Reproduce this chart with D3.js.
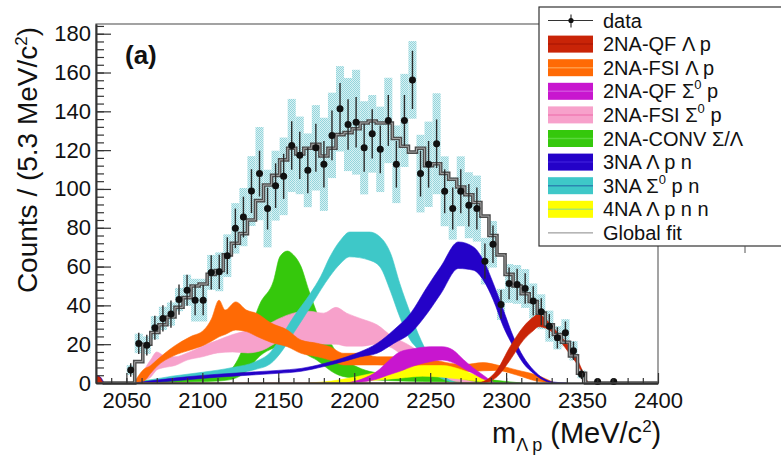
<!DOCTYPE html>
<html>
<head>
<meta charset="utf-8">
<title>m Lambda p</title>
<style type="text/css">
    body { margin: 0; background: #fff; }
    text { font-family: "Liberation Sans", Arial, Helvetica, sans-serif; fill: #111; }
</style>
</head>
<body>
<script src="https://d3js.org/d3.v7.min.js"></script>
<script type="text/javascript">

// histogram: 69 bins of 5.3 MeV starting at 2034.3
var binStart = 2034.3, binWidth = 5.3;

var counts = [0, 0, 0, 6.7, 20.4, 19.5, 28.5, 33.3, 35.5, 43, 47.8, 42.7, 42.7, 57, 57.3, 65.6, 79.7, 85.5,
    98.9, 107.9, 89.9, 101.7, 106.5, 122.4, 117.3, 109.6, 121.2, 112.7, 127.6, 141.3, 133.2, 134.4, 121.2,
    128.4, 120.4, 135.3, 112.7, 135.3, 156.2, 107.9, 112.7, 123.3, 98.8, 89.9, 98.8, 91.6, 89.9, 62.8, 71.5,
    40.5, 51.3, 50.8, 48.7, 42.3, 36.7, 29.3, 23.3, 25.9, 16.6, 4.5, 0, 0.8, 0, 0.8, 0, 0, 0, 0, 0];

var statErr = [0, 0, 0, 3.5, 5.5, 5.3, 6.2, 6.8, 7, 7.8, 8, 7.8, 7.8, 8.8, 8.8, 9.5, 10.2, 10.5,
    11.3, 11.8, 10.8, 11.5, 11.6, 12.5, 12.2, 11.8, 12.4, 12, 12.8, 13.3, 13, 13, 12.4,
    12.7, 12.3, 13.1, 12, 13.1, 15, 11.8, 12, 12.5, 11.3, 10.8, 11.3, 10.9, 10.8, 9.1, 9.6,
    7.4, 8.2, 8.1, 7.9, 7.5, 7, 6.2, 5.5, 5.8, 4.7, 2.5, 0, 0.5, 0, 0.5, 0, 0, 0, 0, 0];

var sysErr = [0, 0, 0, 2.5, 5, 4.5, 6, 6, 6, 6, 8, 11, 11, 9, 10, 11, 13, 15,
    18, 24, 20, 18, 20, 24, 20, 19, 22, 24, 22, 22, 24, 27, 24,
    20, 22, 22, 20, 24, 20, 20, 22, 26, 18, 16, 18, 17, 17, 12, 12,
    8, 10, 10, 10, 9, 9, 8, 6, 7, 5, 2, 0, 0, 0, 0, 0, 0, 0, 0, 0];

var globalFit = [0, 0, 0, 0, 11, 20, 26, 30, 34, 39, 44, 50, 51, 56, 58, 66, 72, 77,
    84, 94, 102, 107, 115, 121, 118, 121, 123, 117, 121, 128, 129, 131, 134,
    135, 134, 134, 126, 122, 119, 121, 112, 113, 108, 105, 101, 97, 93, 86, 76,
    66, 56, 50, 46, 42, 36, 30, 25, 21, 14, 5, 0, 0, 0, 0, 0, 0, 0, 0, 0];

// fit components: x (MeV), upper and lower edge of each band
var qfLpX  = [2030.5, 2032.5, 2035, 2280, 2287, 2294, 2302.6, 2311.4, 2318, 2321.3, 2326.8, 2333.4, 2340, 2346.5, 2351, 2354];
var qfLpHi = [3.5, 3, 0, 0, 1.5, 6.7, 18.7, 29, 34, 35.5, 32.4, 26.4, 20.4, 12.7, 5, 0];
var qfLpLo = [0, 0, 0, 0, 0.3, 3.2, 11.8, 22.1, 27, 29, 28.1, 23.8, 17, 10, 4, 0];

var fsiLpX  = [2055, 2061, 2066, 2070, 2081, 2092, 2101, 2106, 2111, 2115, 2122, 2129, 2136, 2145, 2156, 2165, 2176, 2184, 2193, 2204, 2215, 2230, 2250, 2272, 2285, 2294, 2307, 2320, 2332];
var fsiLpHi = [0, 6.7, 9, 11.8, 18.7, 23.8, 27.3, 33, 42.7, 37.6, 41.8, 37.6, 35.8, 31, 27.3, 22.1, 20.4, 18.7, 15.3, 15.3, 13.5, 13.5, 12, 9.5, 10.5, 9.3, 6.7, 4.1, 0];
var fsiLpLo = [0, 0.7, 5, 8.5, 14, 17, 19.5, 21.5, 23.8, 25, 27.3, 26.5, 24, 21, 18.7, 15.3, 13.5, 11.8, 9.3, 9.3, 9.3, 9, 7, 5.8, 6.3, 6.5, 4.1, 1, 0];

var qfSpX  = [2195, 2205, 2215, 2222, 2230, 2240, 2250, 2258, 2265, 2272, 2278, 2285, 2292];
var qfSpHi = [0, 2, 6, 11, 16, 17.8, 18.7, 18.7, 17, 12, 8, 4, 0];
var qfSpLo = [0, 0.5, 2, 4, 6, 9, 11, 11.8, 10.5, 7.5, 5, 2, 0];

var fsiSpX  = [2054, 2060, 2066, 2070, 2075, 2082, 2090, 2100, 2110, 2120, 2130, 2140, 2150, 2160, 2170, 2180, 2188, 2195, 2205, 2215, 2225, 2235, 2245, 2255, 2265, 2280];
var fsiSpHi = [0, 5, 12, 16, 14, 13.5, 15.5, 19, 22, 25, 27, 29, 33, 36, 37, 36, 39, 36, 33, 30, 24, 20, 15, 9, 4, 0.5];
var fsiSpLo = [0, 1, 3, 6.7, 8, 9, 11.8, 13.5, 15.5, 16, 15.5, 17, 21, 22, 21, 20, 20, 19, 19, 20, 18, 12, 8, 4, 1, 0];

var convX  = [2052, 2060, 2075, 2095, 2110, 2120, 2129, 2138, 2147, 2151, 2156, 2160, 2165, 2170, 2175, 2180, 2185, 2190, 2200, 2210, 2225, 2245, 2265, 2285, 2300, 2310];
var convHi = [0, 1.2, 1.8, 2.8, 3.6, 8, 22, 41, 53, 65, 68, 66, 60, 48, 37, 27, 20, 14, 9, 6, 4.5, 3.8, 3, 2, 0.8, 0];
var convLo = [0, 0, 0.3, 0.6, 1, 2, 6, 14, 18, 19, 20, 19, 17, 14, 12, 9, 6, 4, 2.5, 1.8, 1.2, 0.8, 0.5, 0.2, 0, 0];

var lpnX  = [2030.5, 2033, 2036, 2052, 2070, 2090, 2110, 2130, 2150, 2165, 2180, 2195, 2204, 2215, 2226, 2237, 2248, 2257, 2268.6, 2278.5, 2285, 2291.6, 2298.2, 2304.8, 2311.4, 2318, 2324.5, 2331, 2340];
var lpnHi = [4, 3, 0, 0, 1.5, 3.2, 4.5, 5.5, 6.5, 7.5, 10, 13.5, 16.1, 20.4, 27.3, 35.8, 49.5, 60, 72.7, 70.1, 63.3, 51.3, 37.6, 23.8, 13.5, 6.7, 2.4, 0.5, 0];
var lpnLo = [0, 0, 0, 0, 0.4, 1.7, 3, 4, 5, 6, 8.5, 11.5, 13.5, 15.3, 20.4, 25.6, 35.8, 46, 59, 58.1, 53, 42.7, 29, 18.7, 10.1, 5, 1.5, 0, 0];

var spnX  = [2055, 2080, 2100, 2120, 2135, 2145, 2152, 2160, 2171, 2178, 2184, 2191, 2197, 2210, 2217, 2224, 2230, 2237, 2242, 2246, 2252, 2260, 2268];
var spnHi = [0, 3.5, 5.5, 8, 11, 16, 24, 34, 46, 55, 65, 73.6, 77.8, 77.8, 75.3, 66.7, 51.3, 35.8, 25.6, 18.7, 10, 3, 0];
var spnLo = [0, 2, 3.5, 5, 7, 10, 16, 25.6, 39, 48, 55, 61.6, 65, 63.3, 59.8, 47, 34, 22, 17, 10, 5, 1.5, 0];

var lpnnX  = [2170, 2185, 2200, 2215, 2230, 2245, 2258, 2270, 2280, 2292];
var lpnnHi = [0, 1, 3, 5.5, 7.5, 9, 9, 7, 4, 0];
var lpnnLo = [0, 0, 0.5, 1.5, 2.5, 3.5, 3, 2, 1, 0];

var W = 781, H = 456;

var svg = d3.select("body")
    .append("svg")
    .attr("width", W)
    .attr("height", H);

var x = d3.scaleLinear().domain([2030, 2400]).range([96, 658]);
var y = d3.scaleLinear().domain([0, 185]).range([383, 24]);

// dotted cyan fill for the systematic boxes
var defs = svg.append("defs");
var pat = defs.append("pattern")
    .attr("id", "syst")
    .attr("width", 2).attr("height", 2)
    .attr("patternUnits", "userSpaceOnUse");
pat.append("rect").attr("width", 2).attr("height", 2).attr("fill", "#d8f1f3");
pat.append("rect").attr("width", 1).attr("height", 1).attr("fill", "#94d5dc");
pat.append("rect").attr("x", 1).attr("y", 1).attr("width", 1).attr("height", 1).attr("fill", "#94d5dc");

defs.append("clipPath").attr("id", "plotclip")
    .append("rect")
    .attr("x", x.range()[0]).attr("y", y.range()[1])
    .attr("width", x.range()[1] - x.range()[0])
    .attr("height", y.range()[0] - y.range()[1]);

var bins = counts.map(function(c, i) {
    return {
        lo: binStart + i * binWidth,
        hi: binStart + (i + 1) * binWidth,
        c: c, stat: statErr[i], sys: sysErr[i], fit: globalFit[i]
    };
});

var plot = svg.append("g").attr("clip-path", "url(#plotclip)");

// systematic boxes
plot.selectAll(".sys")
    .data(bins.filter(function(d) { return d.c > 0 && d.sys > 0; }))
    .enter().append("rect")
    .attr("class", "sys")
    .attr("x", function(d) { return x(d.lo); })
    .attr("width", function(d) { return x(d.hi) - x(d.lo); })
    .attr("y", function(d) { return y(d.c + d.sys); })
    .attr("height", function(d) { return y(d.c - d.sys) - y(d.c + d.sys); })
    .attr("fill", "url(#syst)");

// fit components, in drawing order
var components = [
    {name: "conv", xs: convX, hi: convHi, lo: convLo, color: "#35c80c"},
    {name: "fsiSp", xs: fsiSpX, hi: fsiSpHi, lo: fsiSpLo, color: "#f7a1cb"},
    {name: "spn", xs: spnX, hi: spnHi, lo: spnLo, color: "#3ec8c8"},
    {name: "fsiLp", xs: fsiLpX, hi: fsiLpHi, lo: fsiLpLo, color: "#ff6a05"},
    {name: "lpn", xs: lpnX, hi: lpnHi, lo: lpnLo, color: "#2402c8"},
    {name: "lpnn", xs: lpnnX, hi: lpnnHi, lo: lpnnLo, color: "#ffff00"},
    {name: "qfSp", xs: qfSpX, hi: qfSpHi, lo: qfSpLo, color: "#c816cf"},
    {name: "qfLp", xs: qfLpX, hi: qfLpHi, lo: qfLpLo, color: "#c92407"}
];

var band = d3.area()
    .curve(d3.curveMonotoneX)
    .x(function(d) { return x(d.x); })
    .y0(function(d) { return y(d.lo); })
    .y1(function(d) { return y(d.hi); });

components.forEach(function(c) {
    var pts = c.xs.map(function(v, i) { return {x: v, hi: c.hi[i], lo: c.lo[i]}; });
    plot.append("path")
        .attr("d", band(pts))
        .attr("fill", c.color)
        .attr("stroke", c.color)
        .attr("stroke-width", 0.6);
});

// global fit as a step histogram
var fitPts = bins.map(function(d) { return [x(d.lo), y(d.fit)]; });
fitPts.push([x(bins[bins.length - 1].hi), y(bins[bins.length - 1].fit)]);
var step = d3.line().curve(d3.curveStepAfter);
svg.append("path").attr("d", step(fitPts))
    .attr("fill", "none").attr("stroke", "#4d4d4d").attr("stroke-width", 3.6);
svg.append("path").attr("d", step(fitPts))
    .attr("fill", "none").attr("stroke", "#a6a6a6").attr("stroke-width", 1);

// data points
var pts = bins.filter(function(d) { return d.c > 0; });
svg.selectAll(".err")
    .data(pts).enter().append("line")
    .attr("class", "err")
    .attr("x1", function(d) { return x((d.lo + d.hi) / 2); })
    .attr("x2", function(d) { return x((d.lo + d.hi) / 2); })
    .attr("y1", function(d) { return y(Math.max(0, d.c - d.stat)); })
    .attr("y2", function(d) { return y(d.c + d.stat); })
    .attr("stroke", "#2a2a2a").attr("stroke-width", 1.4);
svg.selectAll(".pt")
    .data(pts).enter().append("circle")
    .attr("class", "pt")
    .attr("cx", function(d) { return x((d.lo + d.hi) / 2); })
    .attr("cy", function(d) { return y(d.c); })
    .attr("r", 3.5)
    .attr("fill", "#111");

// frame
svg.append("rect")
    .attr("x", 96).attr("y", 24).attr("width", 562).attr("height", 359)
    .attr("fill", "none").attr("stroke", "#666").attr("stroke-width", 1.2);

// axes
var xMinor = d3.axisBottom(x).tickValues(d3.range(2040, 2400, 10)).tickSize(-5).tickSizeOuter(0).tickFormat("");
var xMajor = d3.axisBottom(x).tickValues(d3.range(2050, 2401, 50)).tickSize(-10).tickSizeOuter(0)
    .tickPadding(9).tickFormat(d3.format("d"));
var yMinor = d3.axisLeft(y).tickValues(d3.range(0, 185, 4)).tickSize(-8).tickSizeOuter(0).tickFormat("");
var yMajor = d3.axisLeft(y).tickValues(d3.range(0, 181, 20)).tickSize(-15).tickSizeOuter(0)
    .tickPadding(5).tickFormat(d3.format("d"));

[xMinor, xMajor].forEach(function(a) {
    svg.append("g").attr("class", "axis").attr("transform", "translate(0,383)").call(a);
});
[yMinor, yMajor].forEach(function(a) {
    svg.append("g").attr("class", "axis").attr("transform", "translate(96,0)").call(a);
});
svg.selectAll(".axis path").attr("stroke", "#333").attr("stroke-width", 1.6);
svg.selectAll(".axis line").attr("stroke", "#333").attr("stroke-width", 1.2);
svg.selectAll(".axis text")
    .style("font-family", "Liberation Sans, Arial, sans-serif")
    .style("font-size", "22px").attr("fill", "#111");

// titles
var yt = svg.append("text")
    .attr("transform", "translate(37,160) rotate(-90)")
    .attr("text-anchor", "middle")
    .style("font-size", "28px");
yt.append("tspan").text("Counts / (5.3 MeV/c");
yt.append("tspan").attr("dy", -10).style("font-size", "17px").text("2");
yt.append("tspan").attr("dy", 10).text(")");

var xt = svg.append("text")
    .attr("x", 492).attr("y", 443)
    .style("font-size", "29px");
xt.append("tspan").text("m");
xt.append("tspan").attr("dy", 8).style("font-size", "18px").text("Λ p");
xt.append("tspan").attr("dy", -8).text(" (MeV/c");
xt.append("tspan").attr("dy", -11).style("font-size", "17px").text("2");
xt.append("tspan").attr("dy", 11).text(")");

svg.append("text")
    .attr("x", 125).attr("y", 64)
    .style("font-size", "26px").style("font-weight", "bold")
    .text("(a)");

// legend
var legendRows = [
    {label: ["data"], type: "data"},
    {label: ["2NA-QF Λ p"], color: "#c92407", mid: "#b01805"},
    {label: ["2NA-FSI Λ p"], color: "#ff6a05", mid: "#ff9a45"},
    {label: ["2NA-QF Σ", "0", " p"], color: "#c816cf", mid: "#d24add"},
    {label: ["2NA-FSI Σ", "0", " p"], color: "#f7a1cb", mid: "#f07cb4"},
    {label: ["2NA-CONV Σ/Λ"], color: "#35c80c", mid: "#5ad83a"},
    {label: ["3NA Λ p n"], color: "#2402c8", mid: "#3a1ad8"},
    {label: ["3NA Σ", "0", " p n"], color: "#3ec8c8", mid: "#2a86b0"},
    {label: ["4NA Λ p n n"], color: "#ffff00", mid: "#a8e86a"},
    {label: ["Global fit"], type: "fit"}
];

var lg = svg.append("g");
lg.append("rect")
    .attr("x", 539).attr("y", 7).attr("width", 260).attr("height", 239)
    .attr("fill", "#fff").attr("stroke", "#333").attr("stroke-width", 1.2);
svg.append("line").attr("x1", 745).attr("x2", 745).attr("y1", 246).attr("y2", 253)
    .attr("stroke", "#555").attr("stroke-width", 1);

legendRows.forEach(function(r, i) {
    var cy = 20.5 + i * 23.6;
    if (r.type === "data") {
        lg.append("line").attr("x1", 548).attr("x2", 593).attr("y1", cy).attr("y2", cy)
            .attr("stroke", "#333").attr("stroke-width", 1.2);
        lg.append("line").attr("x1", 571).attr("x2", 571).attr("y1", cy - 6).attr("y2", cy + 7)
            .attr("stroke", "#333").attr("stroke-width", 1.2);
        lg.append("circle").attr("cx", 571).attr("cy", cy).attr("r", 2.6).attr("fill", "#111");
    } else if (r.type === "fit") {
        lg.append("line").attr("x1", 548).attr("x2", 593).attr("y1", cy).attr("y2", cy)
            .attr("stroke", "#888").attr("stroke-width", 1);
    } else {
        lg.append("rect").attr("x", 548).attr("y", cy - 8.5).attr("width", 45).attr("height", 17)
            .attr("fill", r.color);
        lg.append("line").attr("x1", 548).attr("x2", 593).attr("y1", cy).attr("y2", cy)
            .attr("stroke", r.mid).attr("stroke-width", 1.5);
    }
    var t = lg.append("text").attr("x", 603).attr("y", cy + 7).style("font-size", "20px");
    t.append("tspan").text(r.label[0]);
    if (r.label.length > 1) {
        t.append("tspan").attr("dy", -9).style("font-size", "13px").text(r.label[1]);
        t.append("tspan").attr("dy", 9).text(r.label[2]);
    }
});

</script>
</body>
</html>
